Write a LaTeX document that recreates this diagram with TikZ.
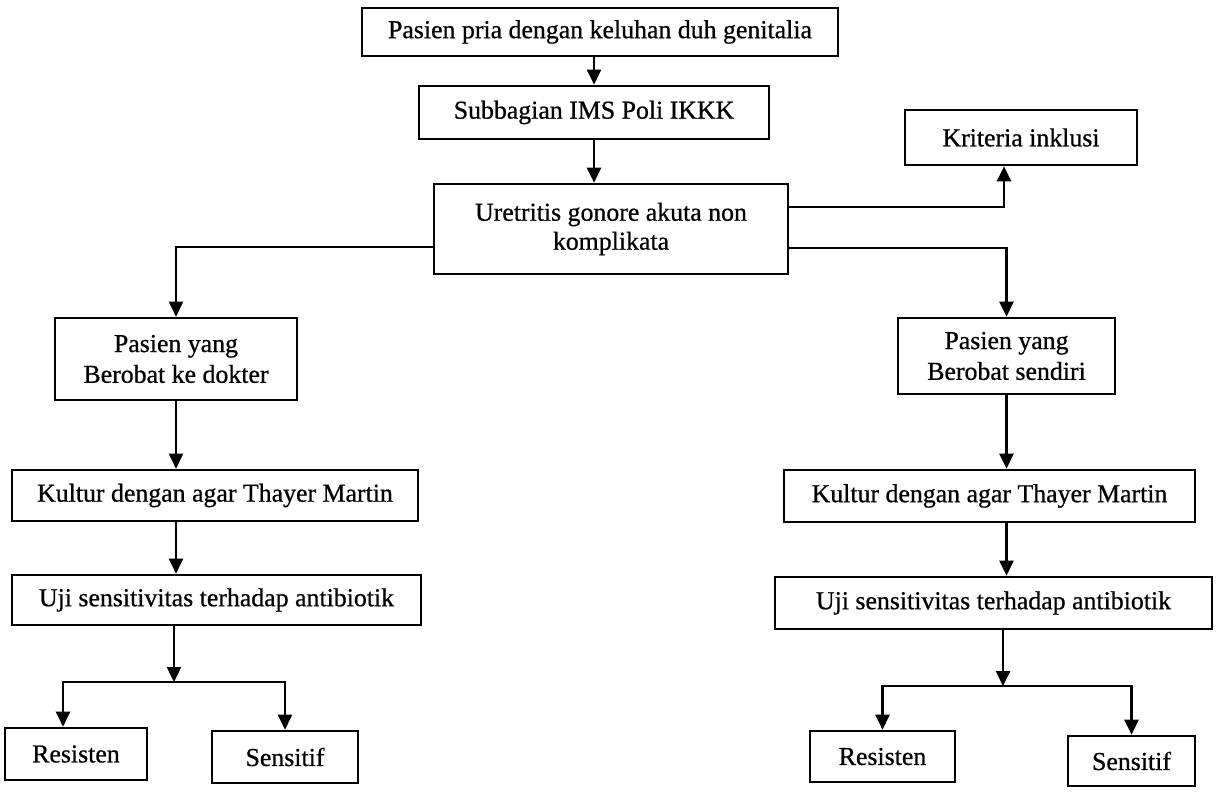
\documentclass[tikz,border=0pt]{standalone}
\usepackage{fontspec}
\newfontfamily\scanfont{Liberation Serif}[FakeBold=0.7]
\usetikzlibrary{arrows.meta}
\begin{document}
\begin{tikzpicture}[x=0.02cm,y=-0.02cm,
  every node/.style={font=\scanfont\fontsize{14.7pt}{17pt}\selectfont},
  box/.style={draw,line width=1.5pt,align=center,inner sep=2pt},
  arr/.style={line width=1.4pt,-{Triangle[length=3mm,width=2.8mm]}}]
\useasboundingbox (0,0) rectangle (1216,793);
% top of the flow
\node[box,minimum width=9.52cm,minimum height=0.96cm] (pasien) at (600,32) {Pasien pria dengan keluhan duh genitalia};
\node[box,minimum width=7.0cm,minimum height=1.06cm] (ims) at (594,112.5) {Subbagian IMS Poli IKKK};
\node[box,minimum width=7.08cm,minimum height=1.8cm,font=\scanfont\fontsize{14.7pt}{16.5pt}\selectfont] (uretritis) at (611,229) {Uretritis gonore akuta non\\komplikata};
\node[box,minimum width=4.64cm,minimum height=1.1cm] (inklusi) at (1021,137.5) {Kriteria inklusi};
\draw[arr] (pasien.south -| ims) -- (ims.north);
\draw[arr] (ims.south) -- (ims.south |- uretritis.north);
\draw[arr] ([yshift=0.44cm]uretritis.east) -| ([xshift=-0.34cm]inklusi.south);
% left branch
\node[box,minimum width=4.84cm,minimum height=1.64cm,font=\scanfont\fontsize{14.7pt}{17.5pt}\selectfont] (dokter) at (176,359) {Pasien yang\\Berobat ke dokter};
\node[box,minimum width=8.12cm,minimum height=1.02cm] (kulturL) at (215,495.5) {Kultur dengan agar Thayer Martin};
\node[box,minimum width=8.18cm,minimum height=1.0cm] (ujiL) at (216.5,600) {Uji sensitivitas terhadap antibiotik};
\node[box,minimum width=2.84cm,minimum height=1.04cm] (resL) at (76,754) {Resisten};
\node[box,minimum width=2.92cm,minimum height=1.04cm] (senL) at (285,757) {Sensitif};
\coordinate (splitL) at (174,682);
\draw[arr] ([yshift=-0.36cm]uretritis.west) -| (dokter.north);
\draw[arr] (dokter.south) -- (dokter.south |- kulturL.north);
\draw[arr] (dokter.south |- kulturL.south) -- (dokter.south |- ujiL.north);
\draw[arr] (ujiL.south -| splitL) -- (splitL);
\draw[arr] (splitL) -| ([xshift=-0.26cm]resL.north);
\draw[arr] (splitL) -| (senL.north);
% right branch
\node[box,minimum width=4.34cm,minimum height=1.52cm,font=\scanfont\fontsize{14.7pt}{17.5pt}\selectfont] (sendiri) at (1006.5,356) {Pasien yang\\Berobat sendiri};
\node[box,minimum width=8.22cm,minimum height=1.04cm] (kulturR) at (989.5,496) {Kultur dengan agar Thayer Martin};
\node[box,minimum width=8.74cm,minimum height=1.04cm] (ujiR) at (993.5,603) {Uji sensitivitas terhadap antibiotik};
\node[box,minimum width=2.9cm,minimum height=1.02cm] (resR) at (882.5,756.5) {Resisten};
\node[box,minimum width=2.54cm,minimum height=1.0cm] (senR) at (1131.5,761) {Sensitif};
\coordinate (splitR) at (1003,686);
\draw[arr] ([yshift=-0.38cm]uretritis.east) -| (sendiri.north);
\draw[arr] (sendiri.south) -- (sendiri.south |- kulturR.north);
\draw[arr] (sendiri.south |- kulturR.south) -- (sendiri.south |- ujiR.north);
\draw[arr] (ujiR.south -| splitR) -- (splitR);
\draw[arr] (splitR) -| (resR.north);
\draw[arr] (splitR) -| (senR.north);
\end{tikzpicture}
\end{document}
